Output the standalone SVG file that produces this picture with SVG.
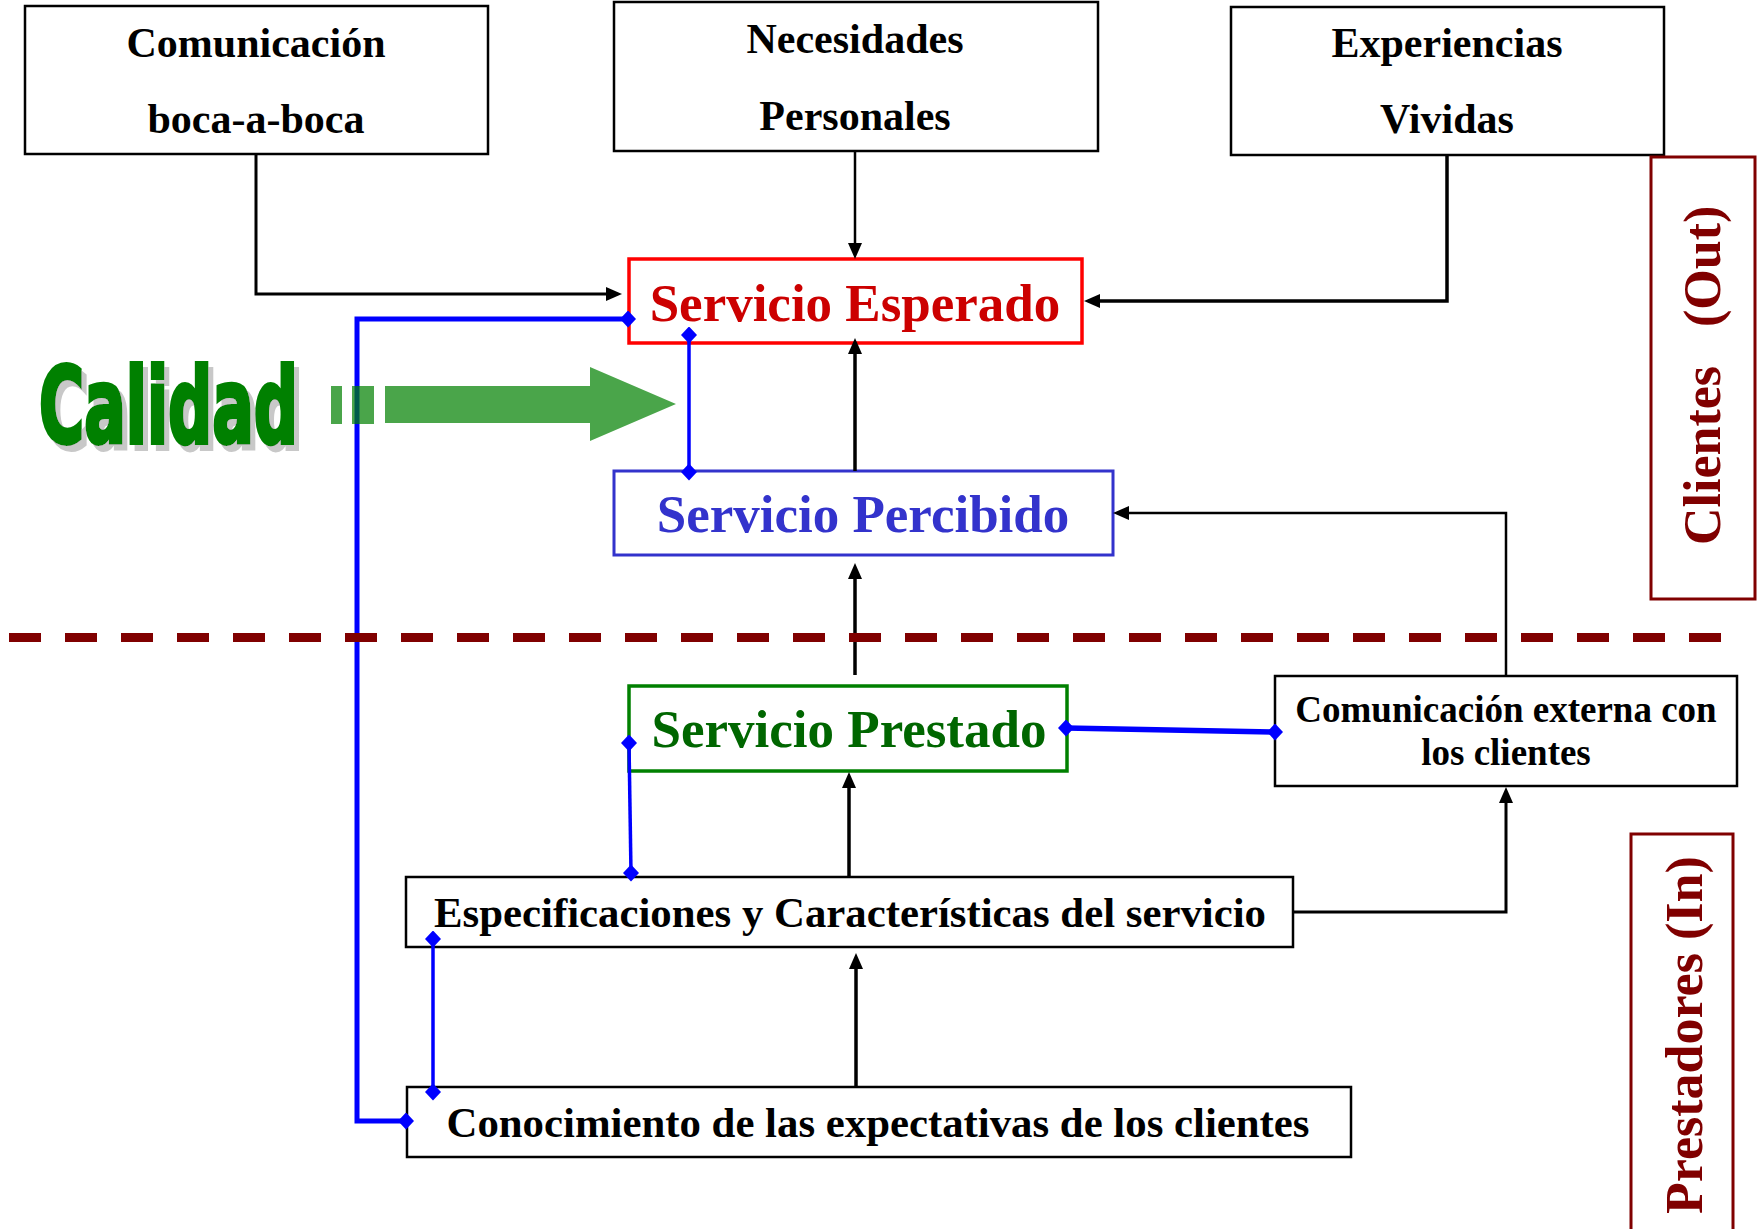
<svg xmlns="http://www.w3.org/2000/svg" width="1758" height="1229" viewBox="0 0 1758 1229">
<style>
.t{font-family:"Liberation Serif","Times New Roman",serif;font-weight:bold;text-anchor:middle}
.box{fill:#fff;stroke:#000;stroke-width:2.5}
.blk{fill:none;stroke:#000;marker-end:url(#arr)}
.blu{fill:none;stroke:#0000ff;marker-start:url(#dia);marker-end:url(#dia)}
.side{fill:#fff;stroke:#800000;stroke-width:3}
.sidet{font-family:"Liberation Serif","Times New Roman",serif;font-weight:bold;font-size:52px;fill:#800000}
</style>
<defs>
<marker id="arr" markerUnits="userSpaceOnUse" markerWidth="16" markerHeight="14" refX="4" refY="7" orient="auto">
<path d="M0,0 L16,7 L0,14 z" fill="#000"/>
</marker>
<marker id="dia" markerUnits="userSpaceOnUse" markerWidth="16" markerHeight="17" refX="8" refY="8.5" orient="0">
<path d="M0,8.5 L8,0 L16,8.5 L8,17 z" fill="#0000ff"/>
</marker>
<filter id="shadow" x="-5%" y="-5%" width="115%" height="120%">
<feFlood flood-color="#c8c8c8"/>
<feComposite in2="SourceAlpha" operator="in"/>
<feOffset dx="5" dy="6" result="s"/>
<feMerge><feMergeNode in="s"/><feMergeNode in="SourceGraphic"/></feMerge>
</filter>
</defs>
<rect width="1758" height="1229" fill="#fff"/>

<g id="n-boca">
<rect class="box" x="25" y="6" width="463" height="148"/>
<text class="t" x="256" y="57" font-size="42">Comunicación</text>
<text class="t" x="256" y="133" font-size="42">boca-a-boca</text>
</g>
<g id="n-necesidades">
<rect class="box" x="614" y="2" width="484" height="149"/>
<text class="t" x="855" y="53" font-size="42">Necesidades</text>
<text class="t" x="855" y="130" font-size="42">Personales</text>
</g>
<g id="n-experiencias">
<rect class="box" x="1231" y="7" width="433" height="148"/>
<text class="t" x="1447" y="57" font-size="42">Experiencias</text>
<text class="t" x="1447" y="133" font-size="42">Vividas</text>
</g>
<g id="n-esperado">
<rect x="629" y="259" width="453" height="84" fill="#fff" stroke="#ff0000" stroke-width="3.5"/>
<text class="t" x="855" y="321" font-size="53" fill="#cc0000">Servicio Esperado</text>
</g>
<g id="n-percibido">
<rect x="614" y="471" width="499" height="84" fill="#fff" stroke="#3333cc" stroke-width="3"/>
<text class="t" x="863" y="532" font-size="53" fill="#3333cc">Servicio Percibido</text>
</g>
<g id="n-prestado">
<rect x="629" y="686" width="438" height="85" fill="#fff" stroke="#008000" stroke-width="3.5"/>
<text class="t" x="849" y="747" font-size="53" fill="#006600">Servicio Prestado</text>
</g>
<g id="n-comext">
<rect class="box" x="1275" y="676" width="462" height="110"/>
<text class="t" x="1506" y="722" font-size="37">Comunicación externa con</text>
<text class="t" x="1506" y="765" font-size="37">los clientes</text>
</g>
<g id="n-especificaciones">
<rect class="box" x="406" y="877" width="887" height="70"/>
<text class="t" x="850" y="927" font-size="42.8">Especificaciones y Características del servicio</text>
</g>
<g id="n-conocimiento">
<rect class="box" x="407" y="1087" width="944" height="70"/>
<text class="t" x="878" y="1137" font-size="42.8">Conocimiento de las expectativas de los clientes</text>
</g>
<g id="n-clientes">
<rect class="side" x="1651" y="157" width="104" height="442"/>
<text class="sidet" transform="translate(1720,545) rotate(-90)">Clientes<tspan x="218">(Out)</tspan></text>
</g>
<g id="n-prestadores">
<rect class="side" x="1631" y="834" width="102" height="410"/>
<text class="sidet" transform="translate(1702,1214) rotate(-90)">Prestadores (In)</text>
</g>

<g id="connectors">
<polyline class="blk" stroke-width="3" points="256,155 256,294 610,294"/>
<polyline class="blk" stroke-width="2.5" points="855,151 855,247"/>
<polyline class="blk" stroke-width="3.5" points="1447,155 1447,301 1096,301"/>
<polyline class="blk" stroke-width="3.5" points="855,471 855,350"/>
<polyline class="blk" stroke-width="3.5" points="855,675 855,575"/>
<polyline class="blk" stroke-width="2.5" points="1506,676 1506,513 1125,513"/>
<polyline class="blk" stroke-width="3.5" points="849,877 849,784"/>
<polyline class="blk" stroke-width="3" points="1293,912 1506,912 1506,799"/>
<polyline class="blk" stroke-width="3.5" points="856,1087 856,965"/>
<polyline class="blu" stroke-width="5" points="628,319 357,319 357,1121 406,1121"/>
<polyline class="blu" stroke-width="3.5" points="689,335 689,472"/>
<polyline class="blu" stroke-width="3.5" points="629,743 631,873"/>
<polyline class="blu" stroke-width="5.5" points="1066,728 1275,732"/>
<polyline class="blu" stroke-width="3.5" points="433,939 433,1092"/>
<line x1="9" y1="637.5" x2="1722" y2="637.5" stroke="#800000" stroke-width="9" stroke-dasharray="32 24"/>
</g>

<g id="calidad">
<text x="39" y="443" filter="url(#shadow)" font-family="'Liberation Sans Narrow','DejaVu Sans Condensed','Liberation Sans',sans-serif" font-weight="bold" font-size="106" textLength="259" lengthAdjust="spacingAndGlyphs" fill="#008000" stroke="#008000" stroke-width="4">Calidad</text>
<g fill="#008000" fill-opacity="0.71">
<rect x="331" y="386" width="11" height="38"/>
<rect x="352" y="386" width="22" height="38"/>
<polygon points="385,386 590,386 590,367 676,404 590,441 590,423 385,423"/>
</g>
</g>
</svg>
